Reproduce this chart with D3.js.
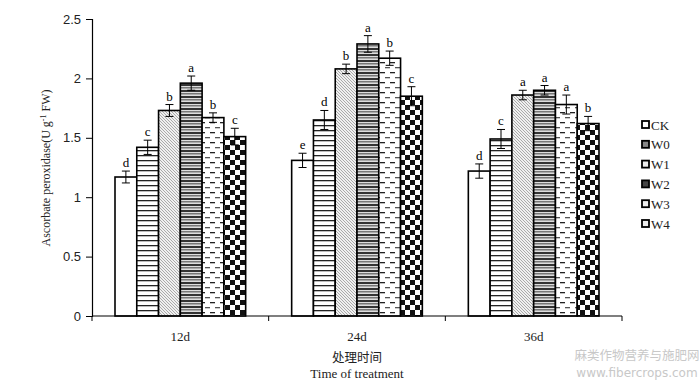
<!DOCTYPE html>
<html>
<head>
<meta charset="utf-8">
<script src="https://cdn.jsdelivr.net/npm/d3@7"></script>
<style>
  body { margin: 0; background: #fff; }
  svg { font-family: "Liberation Serif", "DejaVu Serif", serif; }
  .tick text { font-size: 13px; fill: #222; }
</style>
</head>
<body>
<svg id="chart" width="699" height="385"></svg>
<script>
//////////////////// DATA ////////////////////
const periods = ["12d", "24d", "36d"];
const treatments = ["CK", "W0", "W1", "W2", "W3", "W4"];
const values12 = [1.17, 1.42, 1.73, 1.96, 1.67, 1.51];
const values24 = [1.31, 1.65, 2.08, 2.29, 2.17, 1.85];
const values36 = [1.22, 1.49, 1.86, 1.90, 1.78, 1.62];
const errors12 = [0.05, 0.06, 0.05, 0.06, 0.04, 0.07];
const errors24 = [0.06, 0.08, 0.04, 0.07, 0.06, 0.08];
const errors36 = [0.06, 0.08, 0.04, 0.04, 0.08, 0.06];
const letters12 = ["d", "c", "b", "a", "b", "c"];
const letters24 = ["e", "d", "b", "a", "b", "c"];
const letters36 = ["d", "c", "a", "a", "a", "b"];
const yTicks = [0, 0.5, 1, 1.5, 2, 2.5];

const rows = [
    { period: periods[0], values: values12, errors: errors12, letters: letters12 },
    { period: periods[1], values: values24, errors: errors24, letters: letters24 },
    { period: periods[2], values: values36, errors: errors36, letters: letters36 }
];
const barData = [];
rows.forEach(r => treatments.forEach((t, i) => barData.push({
    period: r.period, treatment: t, value: r.values[i], err: r.errors[i], letter: r.letters[i]
})));

//////////////////// SIZES ////////////////////
const svg = d3.select("#chart");
const plot = { left: 92, right: 622, top: 19, bottom: 316 };

//////////////////// PATTERNS ////////////////////
const defs = svg.append("defs");

// W0: horizontal lines
const p0 = defs.append("pattern").attr("id", "patW0").attr("patternUnits", "userSpaceOnUse")
    .attr("width", 8).attr("height", 5);
p0.append("rect").attr("width", 8).attr("height", 5).attr("fill", "#fff");
p0.append("rect").attr("y", 0).attr("width", 8).attr("height", 1.3).attr("fill", "#222");

// W1: fine diagonal lines
const p1 = defs.append("pattern").attr("id", "patW1").attr("patternUnits", "userSpaceOnUse")
    .attr("width", 3).attr("height", 3);
p1.append("rect").attr("width", 3).attr("height", 3).attr("fill", "#f0f0f0");
p1.append("path").attr("d", "M-1,-1L4,4M-1,2L1,4M2,-1L4,1").attr("stroke", "#aaa").attr("stroke-width", 1);

// W2: dense dark horizontal stripes
const p2 = defs.append("pattern").attr("id", "patW2").attr("patternUnits", "userSpaceOnUse")
    .attr("width", 8).attr("height", 6);
p2.append("rect").attr("width", 8).attr("height", 6).attr("fill", "#ddd");
p2.append("rect").attr("y", 0).attr("width", 8).attr("height", 2).attr("fill", "#333");
p2.append("rect").attr("y", 3).attr("width", 8).attr("height", 1.5).attr("fill", "#777");

// W3: dashed horizontal
const p3 = defs.append("pattern").attr("id", "patW3").attr("patternUnits", "userSpaceOnUse")
    .attr("width", 10).attr("height", 10);
p3.append("rect").attr("width", 10).attr("height", 10).attr("fill", "#fff");
p3.append("rect").attr("x", 0).attr("y", 2).attr("width", 5).attr("height", 1.3).attr("fill", "#222");
p3.append("rect").attr("x", 5).attr("y", 7).attr("width", 5).attr("height", 1.3).attr("fill", "#555");

// W4: checkerboard
const p4 = defs.append("pattern").attr("id", "patW4").attr("patternUnits", "userSpaceOnUse")
    .attr("width", 10).attr("height", 10);
p4.append("rect").attr("width", 10).attr("height", 10).attr("fill", "#fff");
p4.append("rect").attr("width", 5).attr("height", 5).attr("fill", "#111");
p4.append("rect").attr("x", 5).attr("y", 5).attr("width", 5).attr("height", 5).attr("fill", "#111");

const fills = {
    CK: "#fff", W0: "url(#patW0)", W1: "url(#patW1)",
    W2: "url(#patW2)", W3: "url(#patW3)", W4: "url(#patW4)"
};

//////////////////// SCALES ////////////////////
const x0 = d3.scaleBand().domain(periods).range([plot.left, plot.right]).paddingInner(0).paddingOuter(0);
const x1 = d3.scaleBand().domain(treatments).range([23, x0.bandwidth() - 23]).padding(0);
const y = d3.scaleLinear().domain([0, 2.5]).range([plot.bottom, plot.top]);

//////////////////// BARS ////////////////////
svg.append("g").selectAll("rect")
    .data(barData)
    .join("rect")
    .attr("x", d => x0(d.period) + x1(d.treatment))
    .attr("y", d => y(d.value))
    .attr("width", x1.bandwidth())
    .attr("height", d => y(0) - y(d.value))
    .attr("fill", d => fills[d.treatment])
    .attr("stroke", "#000")
    .attr("stroke-width", 1.6);

// error bars
const eb = svg.append("g").attr("stroke", "#000").attr("stroke-width", 1);
barData.forEach(d => {
    const cx = x0(d.period) + x1(d.treatment) + x1.bandwidth() / 2;
    eb.append("line").attr("x1", cx).attr("x2", cx).attr("y1", y(d.value + d.err)).attr("y2", y(d.value - d.err));
    eb.append("line").attr("x1", cx - 4).attr("x2", cx + 4).attr("y1", y(d.value + d.err)).attr("y2", y(d.value + d.err));
    eb.append("line").attr("x1", cx - 4).attr("x2", cx + 4).attr("y1", y(d.value - d.err)).attr("y2", y(d.value - d.err));
});

// significance letters
svg.append("g").selectAll("text")
    .data(barData)
    .join("text")
    .attr("x", d => x0(d.period) + x1(d.treatment) + x1.bandwidth() / 2)
    .attr("y", d => y(d.value + d.err) - 4)
    .attr("text-anchor", "middle")
    .attr("font-size", 13)
    .attr("fill", "#000")
    .text(d => d.letter);

//////////////////// AXES ////////////////////
const yAxis = d3.axisLeft(y).tickValues(yTicks).tickSize(6).tickPadding(5).tickFormat(d3.format("~g"));
svg.append("g").attr("transform", `translate(${plot.left},0)`).call(yAxis)
    .call(g => g.select(".domain").attr("stroke-width", 1.2));

const xAxisG = svg.append("g").attr("transform", `translate(0,${plot.bottom})`);
xAxisG.append("line").attr("x1", plot.left).attr("x2", plot.right).attr("stroke", "#000").attr("stroke-width", 1.2);
xAxisG.selectAll(".sep")
    .data(periods.map(p => x0(p)).concat([plot.right]))
    .join("line")
    .attr("x1", d => d).attr("x2", d => d).attr("y1", 0).attr("y2", 5)
    .attr("stroke", "#000");
xAxisG.selectAll(".lab")
    .data(periods)
    .join("text")
    .attr("x", d => x0(d) + x0.bandwidth() / 2)
    .attr("y", 25)
    .attr("text-anchor", "middle")
    .attr("font-size", 13)
    .attr("fill", "#222")
    .text(d => d);

// axis titles
const yLab = svg.append("text")
    .attr("transform", "translate(50,168) rotate(-90)")
    .attr("text-anchor", "middle")
    .attr("font-size", 12)
    .attr("fill", "#222");
yLab.append("tspan").text("Ascorbate peroxidase(U g");
yLab.append("tspan").attr("dy", -4).attr("font-size", 8).text("-1");
yLab.append("tspan").attr("dy", 4).text(" FW)");

svg.append("text").attr("x", 357).attr("y", 362).attr("text-anchor", "middle")
    .attr("font-family", "Noto Sans CJK SC").attr("font-size", 12.5).attr("fill", "#222").text("处理时间");
svg.append("text").attr("x", 357).attr("y", 378).attr("text-anchor", "middle")
    .attr("font-size", 13).attr("fill", "#222").text("Time of treatment");

//////////////////// LEGEND ////////////////////
const legend = svg.append("g").selectAll("g")
    .data(treatments)
    .join("g")
    .attr("transform", (d, i) => `translate(642,${125 + i * 19.8})`);
legend.append("rect").attr("x", 0).attr("y", -4).attr("width", 7).attr("height", 7)
    .attr("fill", d => d === "W2" ? "#444" : d === "W0" ? "#888" : d === "CK" ? "#fff" : "#eee")
    .attr("stroke", "#000").attr("stroke-width", 1.8);
legend.append("text").attr("x", 9).attr("y", 4.5).attr("font-size", 13).attr("fill", "#222").text(d => d);

//////////////////// WATERMARK ////////////////////
svg.append("text").attr("x", 637).attr("y", 360).attr("text-anchor", "middle")
    .attr("font-family", "Noto Sans CJK SC").attr("font-size", 12.5).attr("fill", "#c8c8c8").text("麻类作物营养与施肥网");
svg.append("text").attr("x", 637).attr("y", 377).attr("text-anchor", "middle")
    .attr("font-family", "DejaVu Sans").attr("font-size", 12).attr("fill", "#c8c8c8").text("www.fibercrops.com");
</script>
</body>
</html>
